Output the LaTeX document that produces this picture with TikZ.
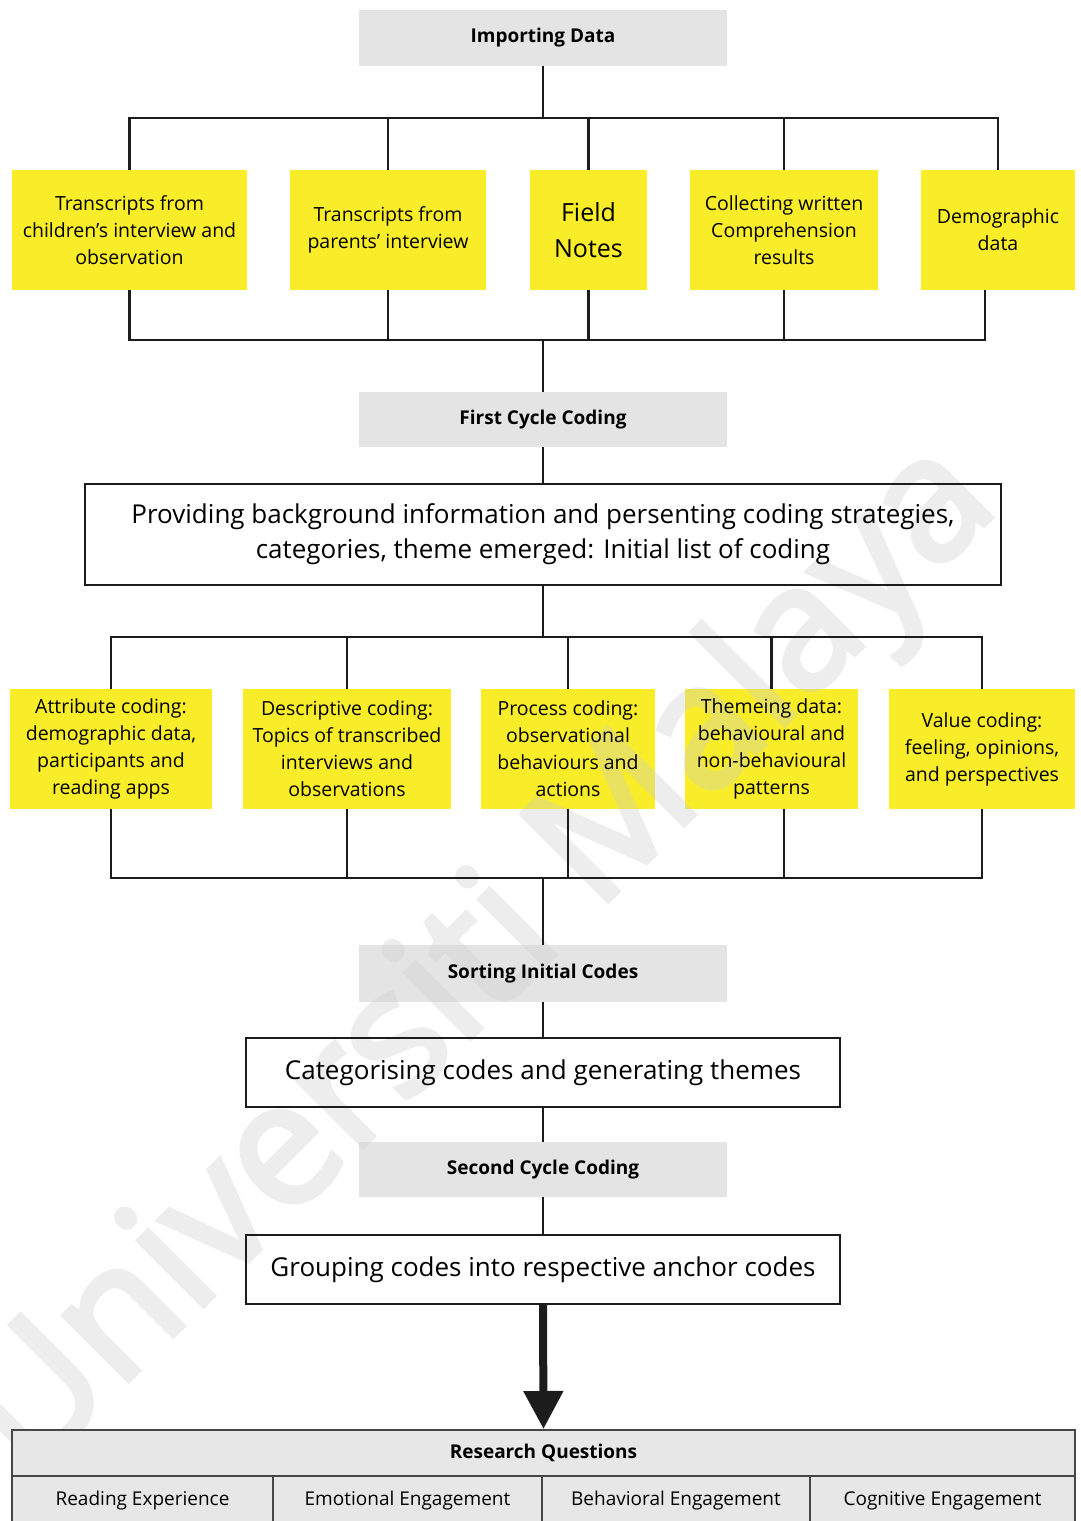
\documentclass[tikz,border=0pt]{standalone}
\usepackage{fontspec}
\setmainfont{Open Sans}
\newfontfamily\markfont[FakeBold=3]{Open Sans}
\usetikzlibrary{arrows.meta}

\definecolor{ink}{RGB}{28,28,28}
\definecolor{notey}{RGB}{249,237,42}
\definecolor{hdrg}{RGB}{228,228,228}
\definecolor{tblg}{RGB}{231,231,231}
\definecolor{tbll}{RGB}{70,70,70}
\definecolor{wmg}{RGB}{205,205,205}

\pgfdeclarelayer{bg}
\pgfdeclarelayer{wm}
\pgfsetlayers{bg,wm,main}

\begin{document}
\begin{tikzpicture}[x=1pt,y=-1pt,
  hdr/.style={minimum width=368pt, minimum height=55pt, inner sep=0pt,
    font=\bfseries\fontsize{19}{24}\selectfont},
  note/.style={align=center, inner sep=0pt, minimum height=120pt,
    font=\fontsize{19.5}{27}\selectfont},
  stepbox/.style={draw=ink, line width=2.4pt, align=center, inner sep=0pt,
    font=\fontsize{26}{35}\selectfont},
  link/.style={draw=ink, line width=2.4pt},
  tblcell/.style={draw=tbll, fill=tblg, line width=2pt, inner sep=0pt,
    font=\fontsize{19}{24}\selectfont},
]
\useasboundingbox (0,0) rectangle (1080,1521);

% ---------- data sources ----------
\node[hdr] (imp) at (543,38) {Importing Data};
\node[note, minimum width=235pt] (t1) at (129.5,230) {Transcripts from\\children’s interview and\\observation};
\node[note, minimum width=196pt] (t2) at (388,230) {Transcripts from\\parents' interview};
\node[note, minimum width=117pt, font=\fontsize{25}{36}\selectfont] (t3) at (588.5,230) {Field\\Notes};
\node[note, minimum width=188pt] (t4) at (784,230) {Collecting written\\Comprehension\\results};
\node[note, minimum width=154pt] (t5) at (998,230) {Demographic\\data};

% ---------- first cycle ----------
\node[hdr] (fcc) at (543,419.5) {First Cycle Coding};
\node[stepbox, minimum width=916pt, minimum height=101pt] (prov) at (543,534.5)
  {Providing background information and persenting coding strategies,\\categories, theme emerged: Initial list of coding};

\node[note, minimum width=202pt] (a1) at (111,749) {Attribute coding:\\demographic data,\\participants and\\reading apps};
\node[note, minimum width=208pt] (a2) at (347,749) {Descriptive coding:\\Topics of transcribed\\interviews and\\observations};
\node[note, minimum width=174pt] (a3) at (568,749) {Process coding:\\observational\\behaviours and\\actions};
\node[note, minimum width=173pt] (a4) at (771.5,749) {Themeing data:\\behavioural and\\non-behavioural\\patterns};
\node[note, minimum width=186pt] (a5) at (982,749) {Value coding:\\feeling, opinions,\\and perspectives};

% ---------- sorting and second cycle ----------
\node[hdr, minimum height=57pt] (sic) at (543,973.5) {Sorting Initial Codes};
\node[stepbox, minimum width=594pt, minimum height=69pt] (cat) at (543,1072.5) {Categorising codes and generating themes};
\node[hdr] (scc) at (543,1169.5) {Second Cycle Coding};
\node[stepbox, minimum width=594pt, minimum height=69pt] (grp) at (543,1269.5) {Grouping codes into respective anchor codes};

% ---------- research questions table ----------
\node[tblcell, minimum width=1063pt, minimum height=46pt, font=\bfseries\fontsize{19}{24}\selectfont] (rq) at (543.5,1453) {Research Questions};
\node[tblcell, minimum width=261pt, minimum height=50pt] (c1) at (142.5,1501) {Reading Experience};
\node[tblcell, minimum width=269pt, minimum height=50pt] (c2) at (407.5,1501) {Emotional Engagement};
\node[tblcell, minimum width=268pt, minimum height=50pt] (c3) at (676,1501) {Behavioral Engagement};
\node[tblcell, minimum width=265pt, minimum height=50pt] (c4) at (942.5,1501) {Cognitive Engagement};

% ---------- fills behind the text ----------
\begin{pgfonlayer}{bg}
  \fill[white] (0,0) rectangle (1080,1521);
  \foreach \n in {imp,fcc,sic,scc}
    \fill[hdrg] (\n.south west) rectangle (\n.north east);
  \foreach \n in {t1,t2,t3,t4,t5,a1,a2,a3,a4,a5}
    \fill[notey] (\n.south west) rectangle (\n.north east);
\end{pgfonlayer}

% ---------- repository mark ----------
\begin{pgfonlayer}{wm}
  \begin{scope}[transparency group, opacity=0.34]
    \node[rotate=45, text=wmg, inner sep=0pt,
      font=\markfont\fontsize{172}{172}\selectfont] (mark) at (484,962) {Universiti Malaya};
  \end{scope}
\end{pgfonlayer}

% ---------- connectors ----------
\coordinate (busA) at (543,118);
\coordinate (busB) at (543,340);
\coordinate (busC) at (543,637);
\coordinate (busD) at (543,878);

\draw[link] (imp.south) -- (busA);
\foreach \n in {t1,t2,t3,t4,t5}
  \draw[link] (busA) -| (\n.north);
\foreach \n in {t1,t2,t3,t4}
  \draw[link] (\n.south) |- (busB);
\draw[link] ([xshift=-13pt]t5.south) |- (busB);
\draw[link] (busB) -- (fcc.north);
\draw[link] (fcc.south) -- (prov.north);

\draw[link] (prov.south) -- (busC);
\foreach \n in {a1,a2,a3,a4,a5}
  \draw[link] (busC) -| (\n.north);
\foreach \n in {a1,a2,a3,a5}
  \draw[link] (\n.south) |- (busD);
\draw[link] ([xshift=12.5pt]a4.south) |- (busD);
\draw[link] (busD) -- (sic.north);

\draw[link] (sic.south) -- (cat.north);
\draw[link] (cat.south) -- (scc.north);
\draw[link] (scc.south) -- (grp.north);
\draw[ink, line width=8pt, -{Triangle[width=38pt,length=38pt]}] (grp.south) -- (rq.north);
\end{tikzpicture}
\end{document}
